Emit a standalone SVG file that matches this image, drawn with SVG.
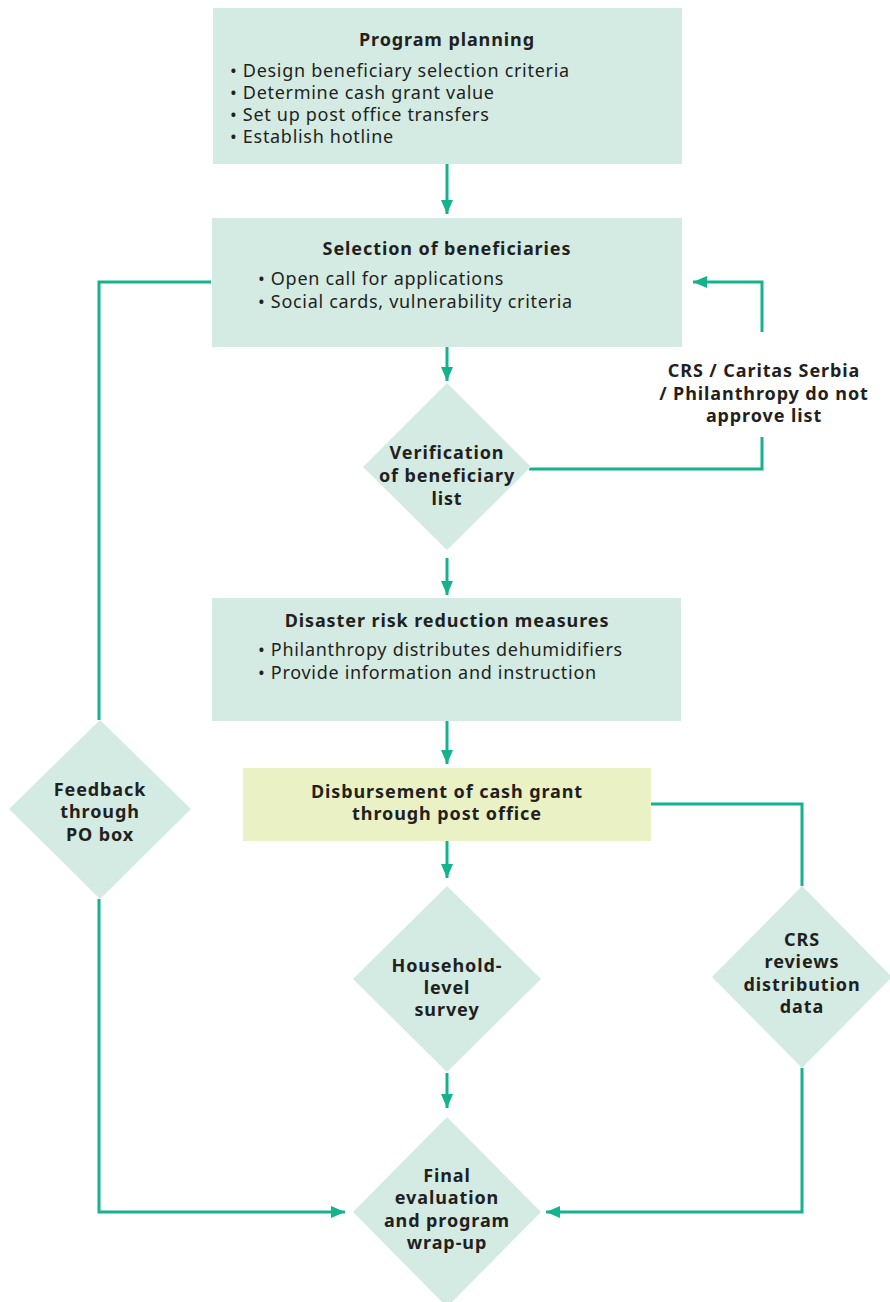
<svg xmlns="http://www.w3.org/2000/svg" width="890" height="1302" viewBox="0 0 890 1302">
<defs>
<style>
.box{fill:#d3ebe2}
.yel{fill:#eaf2c5}
.t{font-family:"Noto Sans","Liberation Sans",sans-serif;font-size:18px;fill:#231f20;letter-spacing:0.7px}
.b{font-weight:bold;text-anchor:middle;letter-spacing:0.9px}
.c{fill:none;stroke:#14b38e;stroke-width:3}
</style>
<marker id="ah" viewBox="0 0 14 12" refX="14" refY="6" markerWidth="14" markerHeight="12" orient="auto" markerUnits="userSpaceOnUse"><path d="M0,0 L14,6 L0,12 Z" fill="#14b38e"/></marker>
</defs>
<rect width="890" height="1302" fill="#ffffff"/>
<g id="connectors">
<path class="c" d="M447,164 V214" marker-end="url(#ah)"/>
<path class="c" d="M447,347 V381" marker-end="url(#ah)"/>
<path class="c" d="M447,558 V595" marker-end="url(#ah)"/>
<path class="c" d="M447,721 V764" marker-end="url(#ah)"/>
<path class="c" d="M447,841 V878" marker-end="url(#ah)"/>
<path class="c" d="M447,1073 V1108" marker-end="url(#ah)"/>
<path class="c" d="M211,282 H99 V720"/>
<path class="c" d="M99,899 V1212 H345" marker-end="url(#ah)"/>
<path class="c" d="M529,469 H762 V437"/>
<path class="c" d="M762,332 V282 H693" marker-end="url(#ah)"/>
<path class="c" d="M651,804 H802 V886"/>
<path class="c" d="M802,1068 V1212 H546" marker-end="url(#ah)"/>
</g>
<g id="program-planning">
<rect class="box" x="213" y="8" width="469" height="156"/>
<text class="t b" x="447" y="46">Program planning</text>
<text class="t" x="230" y="77">• Design beneficiary selection criteria</text>
<text class="t" x="230" y="99">• Determine cash grant value</text>
<text class="t" x="230" y="121">• Set up post office transfers</text>
<text class="t" x="230" y="143">• Establish hotline</text>
</g>
<g id="selection">
<rect class="box" x="212" y="218" width="470" height="129"/>
<text class="t b" x="447" y="255">Selection of beneficiaries</text>
<text class="t" x="258" y="285">• Open call for applications</text>
<text class="t" x="258" y="308">• Social cards, vulnerability criteria</text>
</g>
<g id="verification">
<polygon class="box" points="447,383 531,467 447,550 363,467"/>
<text class="t b" x="447" y="459">Verification</text>
<text class="t b" x="447" y="482">of beneficiary</text>
<text class="t b" x="447" y="505">list</text>
</g>
<g id="not-approve-label">
<text class="t b" x="764" y="377">CRS / Caritas Serbia</text>
<text class="t b" x="764" y="400">/ Philanthropy do not</text>
<text class="t b" x="764" y="422">approve list</text>
</g>
<g id="drr">
<rect class="box" x="212" y="598" width="469" height="123"/>
<text class="t b" x="447" y="627">Disaster risk reduction measures</text>
<text class="t" x="258" y="656">• Philanthropy distributes dehumidifiers</text>
<text class="t" x="258" y="679">• Provide information and instruction</text>
</g>
<g id="disbursement">
<rect class="yel" x="243" y="768" width="408" height="73"/>
<text class="t b" x="447" y="798">Disbursement of cash grant</text>
<text class="t b" x="447" y="820">through post office</text>
</g>
<g id="feedback">
<polygon class="box" points="100,720 191,809 100,899 9,809"/>
<text class="t b" x="100" y="796">Feedback</text>
<text class="t b" x="100" y="818">through</text>
<text class="t b" x="100" y="841">PO box</text>
</g>
<g id="household">
<polygon class="box" points="447,886 541,979 447,1072 353,979"/>
<text class="t b" x="447" y="972">Household-</text>
<text class="t b" x="447" y="994">level</text>
<text class="t b" x="447" y="1016">survey</text>
</g>
<g id="crs-reviews">
<polygon class="box" points="802,886 892,977 802,1068 712,977"/>
<text class="t b" x="802" y="946">CRS</text>
<text class="t b" x="802" y="968">reviews</text>
<text class="t b" x="802" y="991">distribution</text>
<text class="t b" x="802" y="1013">data</text>
</g>
<g id="final">
<polygon class="box" points="447,1117 541,1212 447,1307 353,1212"/>
<text class="t b" x="447" y="1182">Final</text>
<text class="t b" x="447" y="1204">evaluation</text>
<text class="t b" x="447" y="1227">and program</text>
<text class="t b" x="447" y="1249">wrap-up</text>
</g>
</svg>
